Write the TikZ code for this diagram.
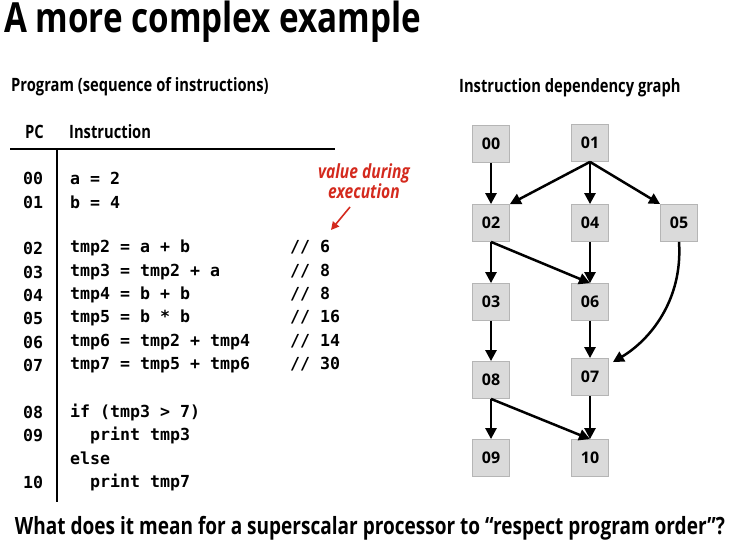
\documentclass[tikz,border=0pt]{standalone}
\usepackage{fontspec}
\setmainfont{Open Sans}
\newfontfamily\cond{Open Sans}[FakeStretch=0.8,UprightFont=* Bold,ItalicFont=* Bold Italic]
\newfontfamily\lbl{Open Sans}[UprightFont=* Bold]
\setmonofont{DejaVu Sans Mono}[UprightFont=* Bold]
\usetikzlibrary{arrows.meta}
\definecolor{boxfill}{HTML}{DADADA}
\definecolor{boxline}{HTML}{B5B5B5}
\definecolor{redc}{HTML}{D42A1E}
\begin{document}
\begin{tikzpicture}[x=1pt,y=-1pt,
  box/.style={draw=boxline,fill=boxfill,minimum width=37pt,minimum height=37pt,inner sep=0pt,font=\lbl\fontsize{16}{18}\selectfont,line width=0.8pt},
  dep/.style={line width=2.5pt,-{Triangle[length=11pt,width=11pt]}},
  code/.style={anchor=west,inner sep=0pt,font=\ttfamily\fontsize{16.6}{20}\selectfont},
  head/.style={anchor=west,inner sep=0pt,font=\cond\fontsize{18.4}{20}\selectfont}]
\useasboundingbox (0,0) rectangle (737,553);
\node[anchor=west,inner sep=0pt,font=\cond\fontsize{41.5}{44}\selectfont] (title) at (4,22) {A more complex example};
\node[head] (prog) at (11,87) {Program (sequence of instructions)};
\node[head] (gh) at (459,88) {Instruction dependency graph};
\node[head] (pc) at (25,132) {PC};
\node[head] (ins) at (69,132) {Instruction};
\node[anchor=center,inner sep=0pt,font=\cond\fontsize{23.8}{27}\selectfont] (q) at (370,528) {What does it mean for a superscalar processor to “respect program order”?};
\draw[line width=1.6pt] (10,149) -- (335,149);
\draw[line width=1.6pt] (57,149) -- (57,502);
% code
\node[code] (p00) at (23,178) {00}; \node[code] (c00) at (70,178) {a = 2};
\node[code] (p01) at (23,202) {01}; \node[code] (c01) at (70,202) {b = 4};
\node[code] (p02) at (23,248) {02}; \node[code] (c02) at (70,248) {tmp2 = a + b\ \ \ \ \ \ \ \ \ \ // 6};
\node[code] (p03) at (23,272) {03}; \node[code] (c03) at (70,272) {tmp3 = tmp2 + a\ \ \ \ \ \ \ // 8};
\node[code] (p04) at (23,295) {04}; \node[code] (c04) at (70,295) {tmp4 = b + b\ \ \ \ \ \ \ \ \ \ // 8};
\node[code] (p05) at (23,318) {05}; \node[code] (c05) at (70,318) {tmp5 = b * b\ \ \ \ \ \ \ \ \ \ // 16};
\node[code] (p06) at (23,342) {06}; \node[code] (c06) at (70,342) {tmp6 = tmp2 + tmp4\ \ \ \ // 14};
\node[code] (p07) at (23,365) {07}; \node[code] (c07) at (70,365) {tmp7 = tmp5 + tmp6\ \ \ \ // 30};
\node[code] (p08) at (23,412) {08}; \node[code] (c08) at (70,412) {if (tmp3 > 7)};
\node[code] (p09) at (23,435) {09}; \node[code] (c09) at (70,435) {\ \ print tmp3};
\node[code] (c0e) at (70,458) {else};
\node[code] (p10) at (23,482) {10}; \node[code] (c10) at (70,482) {\ \ print tmp7};
\node[align=center,inner sep=0pt,text=redc,font=\cond\itshape\fontsize{19.5}{19}\selectfont] (val) at (364,181) {value during\\execution};
\coordinate (va) at (350,207);
\coordinate (vb) at (331,230);
\draw[redc,line width=1.6pt,-{Triangle[length=8pt,width=8pt]}] (va) -- (vb);
% graph
\node[box] (n00) at (491,144) {00};
\node[box] (n01) at (590,143) {01};
\node[box] (n02) at (491,223) {02};
\node[box] (n04) at (590,223) {04};
\node[box] (n05) at (679,223) {05};
\node[box] (n03) at (491,302) {03};
\node[box] (n06) at (590,302) {06};
\node[box] (n08) at (491,380) {08};
\node[box] (n07) at (590,377) {07};
\node[box] (n09) at (491,458) {09};
\node[box] (n10) at (590,458) {10};
\draw[dep] (n00) -- (n02);
\draw[dep] (n01.south) -- (n02.north east);
\draw[dep] (n01) -- (n04);
\draw[dep] (n01.south) -- (n05.north west);
\draw[dep] (n02) -- (n03);
\draw[dep] (n02.south) -- (n06.north);
\draw[dep] (n04) -- (n06);
\draw[dep] (n05.south) .. controls (683,300) and (650,340) .. ([xshift=4pt,yshift=-4pt]n07.north east);
\draw[dep] (n03) -- (n08);
\draw[dep] (n06) -- (n07);
\draw[dep] (n08) -- (n09);
\draw[dep] (n08.south) -- (n10.north);
\draw[dep] (n07) -- (n10);
\end{tikzpicture}
\end{document}
